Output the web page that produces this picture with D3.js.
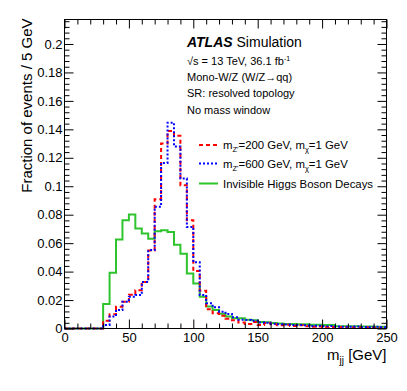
<!DOCTYPE html>
<html>
<head>
<meta charset="utf-8">
<script src="https://cdn.jsdelivr.net/npm/d3@7"></script>
<style>
  body { margin: 0; background: #fff; }
  text { font-family: "Liberation Sans", Arial, Helvetica, sans-serif; }
</style>
</head>
<body>
<div id="chart"></div>
<script>
// bin lower edges, 5 GeV wide
const binLow = [0,5,10,15,20,25,30,35,40,45,50,55,60,65,70,75,80,85,90,95,
  100,105,110,115,120,125,130,135,140,145,150,155,160,165,170,175,180,185,190,195,
  200,205,210,215,220,225,230,235,240,245];
const binUpper = 250;

// m_Z'=200 GeV, m_chi=1 GeV
const zp200 = [0,0,0,0,0,0,0.0055,0.0100,0.0153,0.0188,0.0237,0.0268,0.0326,0.0548,0.0908,0.1300,0.1388,0.1355,0.1007,0.0761,
  0.0404,0.0265,0.0135,0.0107,0.0090,0.0068,0.0058,0.0042,0.0032,0.0046,0.0024,0.0038,0.0030,0.0022,0.0026,0.0018,0.0022,0.0015,0.0012,0.0014,
  0.0010,0.0011,0.0008,0.0010,0.0007,0.0006,0.0008,0.0005,0.0006,0.0004];
// m_Z'=600 GeV, m_chi=1 GeV
const zp600 = [0,0,0,0,0,0,0.0025,0.0085,0.0130,0.0188,0.0223,0.0235,0.0327,0.0551,0.0855,0.1164,0.1447,0.1280,0.1054,0.0714,
  0.0465,0.0235,0.0177,0.0149,0.0118,0.0102,0.0079,0.0062,0.0060,0.0055,0.0043,0.0040,0.0034,0.0030,0.0028,0.0025,0.0024,0.0022,0.0018,0.0020,
  0.0016,0.0017,0.0014,0.0013,0.0012,0.0014,0.0011,0.0010,0.0012,0.0009];
// invisible Higgs
const higgs = [0,0,0,0,0,0,0.0172,0.0392,0.0626,0.0761,0.0801,0.0703,0.0668,0.0630,0.0684,0.0690,0.0678,0.0588,0.0526,0.0387,
  0.0317,0.0223,0.0155,0.0130,0.0104,0.0085,0.0072,0.0072,0.0062,0.0058,0.0046,0.0044,0.0038,0.0036,0.0031,0.0031,0.0030,0.0029,0.0026,0.0026,
  0.0025,0.0025,0.0016,0.0016,0.0015,0.0015,0.0014,0.0014,0.0013,0.0012];

const xTicks = [0,50,100,150,200,250];
const xMinor = [10,20,30,40,60,70,80,90,110,120,130,140,160,170,180,190,210,220,230,240];
const yTicks = [0,0.02,0.04,0.06,0.08,0.1,0.12,0.14,0.16,0.18,0.2];
const yTickLabels = ["0","0.02","0.04","0.06","0.08","0.1","0.12","0.14","0.16","0.18","0.2"];
const yMinor = [0.004,0.008,0.012,0.016,0.024,0.028,0.032,0.036,0.044,0.048,0.052,0.056,
  0.064,0.068,0.072,0.076,0.084,0.088,0.092,0.096,0.104,0.108,0.112,0.116,0.124,0.128,0.132,0.136,
  0.144,0.148,0.152,0.156,0.164,0.168,0.172,0.176,0.184,0.188,0.192,0.196,0.204,0.208,0.212,0.216];

const series = [
  {name: "higgs", values: higgs, color: "#2ec42e", dash: null},
  {name: "zp200", values: zp200, color: "#ff0000", dash: "4,3"},
  {name: "zp600", values: zp600, color: "#0000ff", dash: "2,2"}
];

const widthSvg = 407, heightSvg = 391;
const margin = {top: 19.5, right: 20.5, bottom: 62.5, left: 64.5};
const width = widthSvg - margin.left - margin.right;
const height = heightSvg - margin.top - margin.bottom;

const svg = d3.select("#chart").append("svg")
  .attr("width", widthSvg).attr("height", heightSvg)
  .style("background", "#fff");

const x = d3.scaleLinear().domain([0, 250]).range([0, width]);
const y = d3.scaleLinear().domain([0, 0.2172]).range([height, 0]);

const g = svg.append("g")
  .attr("transform", "translate(" + margin.left + "," + margin.top + ")");

// histograms
const step = d3.line()
  .x(function(d) { return x(d[0]); })
  .y(function(d) { return y(d[1]); })
  .curve(d3.curveStepAfter);

series.forEach(function(s) {
  const pts = binLow.map(function(b, i) { return [b, s.values[i]]; });
  pts.push([binUpper, s.values[s.values.length - 1]]);
  g.append("path")
    .attr("d", step(pts))
    .attr("fill", "none")
    .attr("stroke", s.color)
    .attr("stroke-width", 2)
    .attr("stroke-dasharray", s.dash);
});

// axes, ticks inward on all four sides
function styleAxis(sel) {
  sel.select(".domain").remove();
  sel.selectAll(".tick line").attr("stroke", "#000");
  sel.selectAll(".tick text").attr("fill", "#000").style("font-size", "13px");
}

g.append("g").attr("transform", "translate(0," + height + ")")
  .call(d3.axisBottom(x).tickValues(xTicks).tickSize(-9).tickPadding(4).tickFormat(d3.format("d")))
  .call(styleAxis);
g.append("g").attr("transform", "translate(0," + height + ")")
  .call(d3.axisBottom(x).tickValues(xMinor).tickSize(-5).tickFormat(""))
  .call(styleAxis);
g.append("g")
  .call(d3.axisTop(x).tickValues(xTicks).tickSize(-9).tickFormat(""))
  .call(styleAxis);
g.append("g")
  .call(d3.axisTop(x).tickValues(xMinor).tickSize(-5).tickFormat(""))
  .call(styleAxis);

g.append("g")
  .call(d3.axisLeft(y).tickValues(yTicks).tickSize(-9).tickPadding(2)
    .tickFormat(function(d, i) { return yTickLabels[i]; }))
  .call(styleAxis);
g.append("g")
  .call(d3.axisLeft(y).tickValues(yMinor).tickSize(-5).tickFormat(""))
  .call(styleAxis);
g.append("g").attr("transform", "translate(" + width + ",0)")
  .call(d3.axisRight(y).tickValues(yTicks).tickSize(-9).tickFormat(""))
  .call(styleAxis);
g.append("g").attr("transform", "translate(" + width + ",0)")
  .call(d3.axisRight(y).tickValues(yMinor).tickSize(-5).tickFormat(""))
  .call(styleAxis);

g.append("rect")
  .attr("width", width).attr("height", height)
  .attr("fill", "none").attr("stroke", "#000").attr("stroke-width", 1);

// axis titles
const xTitle = g.append("text")
  .attr("x", width).attr("y", height + 31)
  .attr("text-anchor", "end")
  .style("font-size", "15px");
xTitle.append("tspan").text("m");
xTitle.append("tspan").attr("dy", 4).style("font-size", "10px").text("jj");
xTitle.append("tspan").attr("dy", -4).text(" [GeV]");

svg.append("text")
  .attr("transform", "translate(31.5,18.5) rotate(-90)")
  .attr("text-anchor", "end")
  .style("font-size", "15px")
  .text("Fraction of events / 5 GeV");

// labels
const tx = 187;
const atlas = svg.append("text").attr("x", tx).attr("y", 47).style("font-size", "14px");
atlas.append("tspan").style("font-weight", "bold").style("font-style", "italic").text("ATLAS");
atlas.append("tspan").text(" Simulation");

const lumi = svg.append("text").attr("x", tx).attr("y", 64.5).style("font-size", "11px");
lumi.append("tspan").text("\u221As = 13 TeV, 36.1 fb");
lumi.append("tspan").attr("dy", -4).style("font-size", "7px").text("-1");

svg.append("text").attr("x", tx).attr("y", 81).style("font-size", "11px")
  .text("Mono-W/Z (W/Z\u2192qq)");
svg.append("text").attr("x", tx).attr("y", 97).style("font-size", "11px")
  .text("SR: resolved topology");
svg.append("text").attr("x", tx).attr("y", 113.5).style("font-size", "11px")
  .text("No mass window");

// legend
const legend = [
  {s: series[1], sub1: "Z'", mid: "=200 GeV, m", sub2: "\u03C7", end: "=1 GeV", y: 145},
  {s: series[2], sub1: "Z'", mid: "=600 GeV, m", sub2: "\u03C7", end: "=1 GeV", y: 163.5},
  {s: series[0], text: "Invisible Higgs Boson Decays", y: 183.5}
];
legend.forEach(function(l) {
  svg.append("line")
    .attr("x1", 199).attr("x2", 218).attr("y1", l.y).attr("y2", l.y)
    .attr("stroke", l.s.color).attr("stroke-width", 2)
    .attr("stroke-dasharray", l.s.dash);
  const t = svg.append("text").attr("x", 223).attr("y", l.y + 4).style("font-size", "11.4px");
  if (l.text) {
    t.text(l.text);
  } else {
    t.append("tspan").text("m");
    t.append("tspan").attr("dy", 3).style("font-size", "7.5px").text(l.sub1);
    t.append("tspan").attr("dy", -3).text(l.mid);
    t.append("tspan").attr("dy", 3).style("font-size", "7.5px").text(l.sub2);
    t.append("tspan").attr("dy", -3).text(l.end);
  }
});
</script>
</body>
</html>
